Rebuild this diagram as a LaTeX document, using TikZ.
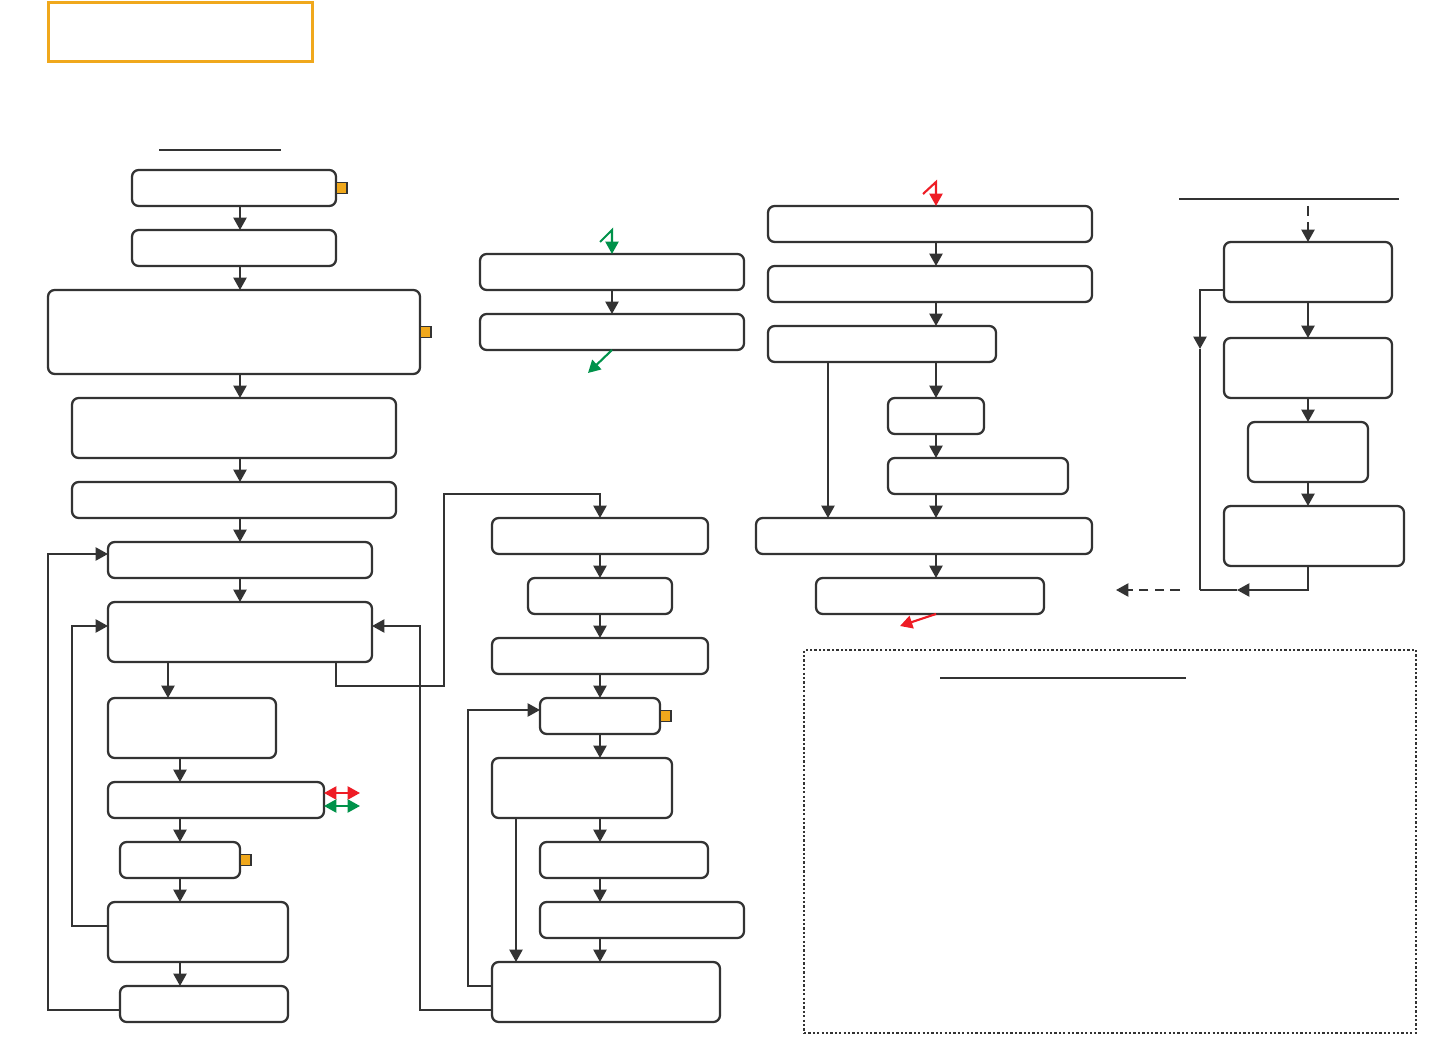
\documentclass[tikz,border=0pt]{standalone}
\usetikzlibrary{arrows.meta}
\definecolor{ink}{HTML}{333333}
\definecolor{amber}{HTML}{F0A81C}
\definecolor{hotred}{HTML}{EE1C25}
\definecolor{leaf}{HTML}{00924A}
\begin{document}
\begin{tikzpicture}[x=0.02cm, y=-0.02cm, >={Triangle[length=7pt,width=7.4pt]},
  blk/.style 2 args={draw=ink, line width=1.3pt, rounded corners=3.8pt, inner sep=0pt,
    outer sep=0pt, minimum width=#1*0.02cm, minimum height=#2*0.02cm},
  tag/.style={draw=ink, fill=amber, line width=1pt, minimum size=0.22cm, inner sep=0pt,
    outer sep=0pt, anchor=west},
  arr/.style={->, draw=ink, line width=1.2pt},
  wire/.style={draw=ink, line width=1.2pt},
  dashes/.style={dash pattern=on 5.5pt off 3.5pt},
  rarr/.style={->, draw=hotred, line width=1.2pt},
  garr/.style={->, draw=leaf, line width=1.2pt},
  uline/.style={draw=ink, line width=1pt}]
  \useasboundingbox (0,0) rectangle (1441,1040);

  % heading
  \node[draw=amber, line width=1.8pt, inner sep=0pt, minimum width=264*0.02cm,
    minimum height=59*0.02cm] (title) at (180.5,32) {};
  \draw[uline] (159,150) -- (281,150);

  % main column
  \node[blk={204}{36}] (a1) at (234,188) {};
  \node[blk={204}{36}] (a2) at (234,248) {};
  \node[blk={372}{84}] (a3) at (234,332) {};
  \node[blk={324}{60}] (a4) at (234,428) {};
  \node[blk={324}{36}] (a5) at (234,500) {};
  \node[blk={264}{36}] (a6) at (240,560) {};
  \node[blk={264}{60}] (a7) at (240,632) {};
  \node[blk={168}{60}] (a8) at (192,728) {};
  \node[blk={216}{36}] (a9) at (216,800) {};
  \node[blk={120}{36}] (a10) at (180,860) {};
  \node[blk={180}{60}] (a11) at (198,932) {};
  \node[blk={168}{36}] (a12) at (204,1004) {};
  \node[tag] (t1) at (a1.east) {};
  \node[tag] (t2) at (a3.east) {};
  \node[tag] (t3) at (a10.east) {};

  \foreach \u/\v in {a1/a2, a2/a3, a3/a4, a4/a5, a5/a6, a6/a7}
    \draw[arr] (\u.south -| a6) -- (\v.north -| a6);
  \draw[arr] (168,0 |- a7.south) -- (168,0 |- a8.north);
  \foreach \u/\v in {a8/a9, a9/a10, a10/a11, a11/a12}
    \draw[arr] (\u.south -| a10) -- (\v.north -| a10);
  \draw[arr] (a11.west |- 0,926) -| (72,626) -- (a7.west |- 0,626);
  \draw[arr] (a12.west |- 0,1010) -| (48,554) -- (a6.west |- 0,554);
  \draw[rarr, <->] (a9.east |- 0,793) -- ++(36,0);
  \draw[garr, <->] (a9.east |- 0,806) -- ++(36,0);

  % second column
  \node[blk={216}{36}] (b1) at (600,536) {};
  \node[blk={144}{36}] (b2) at (600,596) {};
  \node[blk={216}{36}] (b3) at (600,656) {};
  \node[blk={120}{36}] (b4) at (600,716) {};
  \node[blk={180}{60}] (b5) at (582,788) {};
  \node[blk={168}{36}] (b6) at (624,860) {};
  \node[blk={204}{36}] (b7) at (642,920) {};
  \node[blk={228}{60}] (b8) at (606,992) {};
  \node[tag] (t4) at (b4.east) {};

  \foreach \u/\v in {b1/b2, b2/b3, b3/b4, b4/b5, b5/b6, b6/b7, b7/b8}
    \draw[arr] (\u.south -| b1) -- (\v.north -| b1);
  \draw[arr] (516,0 |- b5.south) -- (516,0 |- b8.north);
  \draw[arr] (336,0 |- a7.south) |- (444,686) |- (600,494) -- (b1.north);
  \draw[arr] (b8.west |- 0,1010) -| (420,626) -- (a7.east |- 0,626);
  \draw[arr] (b8.west |- 0,986) -| (468,710) -- (b4.west |- 0,710);

  % green pair
  \node[blk={264}{36}] (g1) at (612,272) {};
  \node[blk={264}{36}] (g2) at (612,332) {};
  \draw[arr] (g1) -- (g2);
  \coordinate (gin) at (600,242);
  \coordinate (gout) at (588,373);
  \draw[garr] (gin) -- (612,230) -- (g1.north);
  \draw[garr] (g2.south) -- (gout);

  % red column
  \node[blk={324}{36}] (r1) at (930,224) {};
  \node[blk={324}{36}] (r2) at (930,284) {};
  \node[blk={228}{36}] (r3) at (882,344) {};
  \node[blk={96}{36}] (r4) at (936,416) {};
  \node[blk={180}{36}] (r5) at (978,476) {};
  \node[blk={336}{36}] (r6) at (924,536) {};
  \node[blk={228}{36}] (r7) at (930,596) {};
  \foreach \u/\v in {r1/r2, r2/r3, r3/r4, r4/r5, r5/r6, r6/r7}
    \draw[arr] (\u.south -| r4) -- (\v.north -| r4);
  \draw[arr] (828,0 |- r3.south) -- (828,0 |- r6.north);
  \coordinate (rin) at (923,194);
  \coordinate (rout) at (900,626);
  \draw[rarr] (rin) -- (936,182) -- (r1.north -| r4);
  \draw[rarr] (r7.south -| r4) -- (rout);

  % right column
  \draw[uline] (1179,199) -- (1399,199);
  \node[blk={168}{60}] (s1) at (1308,272) {};
  \node[blk={168}{60}] (s2) at (1308,368) {};
  \node[blk={120}{60}] (s3) at (1308,452) {};
  \node[blk={180}{60}] (s4) at (1314,536) {};
  \foreach \u/\v in {s1/s2, s2/s3, s3/s4}
    \draw[arr] (\u.south -| s1) -- (\v.north -| s1);
  \coordinate (entry) at (1308,206);
  \coordinate (jn) at (1200,590);
  \coordinate (exit) at (1116,590);
  \draw[arr, dashes] (entry) -- (s1.north);
  \draw[arr] (s1.west |- 0,290) -| (1200,349);
  \draw[wire] (1200,349) -- (jn);
  \draw[arr] (s4.south -| s1) |- (1237,590);
  \draw[wire] (1237,590) -- (jn);
  \draw[arr, dashes] ([xshift=-0.4cm]jn) -- (exit);

  % legend panel
  \node[draw=ink, line width=1.3pt, dash pattern=on 1.3pt off 1.2pt, inner sep=0pt,
    minimum width=612*0.02cm, minimum height=383*0.02cm] (panel) at (1110,841.5) {};
  \draw[uline] (940,678) -- (1186,678);
\end{tikzpicture}
\end{document}
